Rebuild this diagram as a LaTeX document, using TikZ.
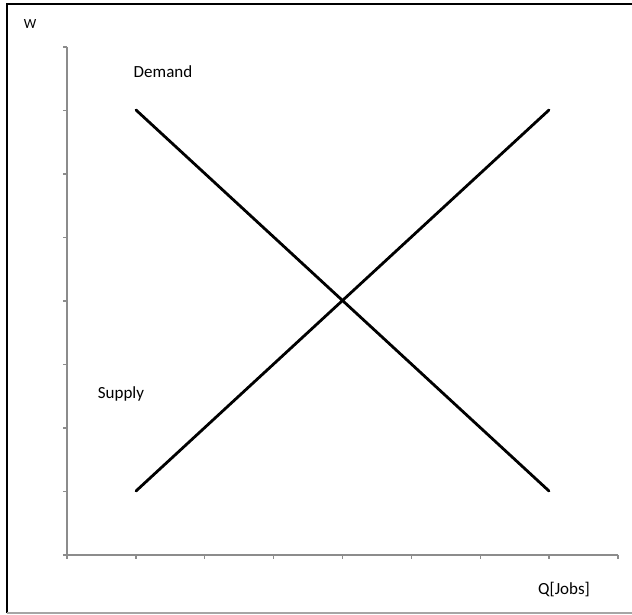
\documentclass[tikz,border=0pt]{standalone}
\usepackage{fontspec}
\setmainfont{Carlito}
\usepackage{tikz}
\usetikzlibrary{positioning,calc}
\definecolor{axisgray}{HTML}{8C8C8C}
\definecolor{framegray}{HTML}{A6A6A6}

\begin{document}
\begin{tikzpicture}[x=1pt, y=1pt,
    curve/.style={line width=2.8pt, line cap=round},
    axisline/.style={axisgray, line width=1.3pt},
    lbl/.style={font=\fontsize{17}{20}\selectfont, inner sep=0pt}]
      \useasboundingbox (-67,-59) rectangle (565,555);

      % Frame
      \draw[line width=2pt] (-60,-58) -- (-60,551) -- (565,551);
      \draw[framegray, line width=1.5pt] (-60,-58) -- (565,-58);

      % Axes
      \coordinate (O) at (0,0);
      \coordinate (ytop) at (0,508);
      \coordinate (xend) at (551,0);
      \draw[axisline] (ytop) -- (O) -- (xend);
      \foreach \k in {0,...,8} {
        \draw[axisline] (-4,\k*63.5) -- (0,\k*63.5);
        \draw[axisline] (\k*68.875,0) -- (\k*68.875,-4);
      }
      \node[font=\fontsize{14}{16}\selectfont, inner sep=0pt] (wlabel) at (-37,531) {W};
      \node[lbl] (qlabel) at (497,-35) {Q[Jobs]};

      % Demand and supply
      \coordinate (dtop) at (69,445);
      \coordinate (dbot) at (482,64);
      \coordinate (sbot) at (69,64);
      \coordinate (stop) at (482,445);
      \draw[curve] (dtop) -- (dbot);
      \draw[curve] (sbot) -- (stop);

      % Labels
      \node[lbl] (demand) at (96,483) {Demand};
      \node[lbl] (supply) at (54,161) {Supply};
    \end{tikzpicture}
\end{document}
